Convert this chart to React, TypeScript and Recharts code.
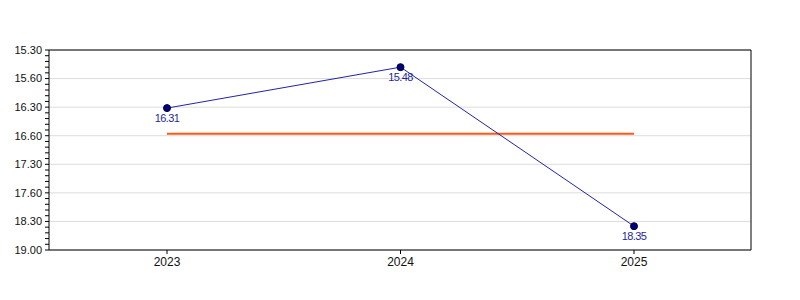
import React from 'react';
import { LineChart, Line, XAxis, YAxis, CartesianGrid, ReferenceLine, LabelList } from 'recharts';

const years = ['2023', '2024', '2025'];
const times = ['16.31', '15.48', '18.35'];
const target = '16.58';
const tickLabels = ['15.30', '15.60', '16.30', '16.60', '17.30', '17.60', '18.30', '19.00'];

// "mm.ss" -> seconds (the axis labels let the seconds run up to 60)
const toSecs = (s: string) => {
  const [m, sec] = s.split('.');
  return Number(m) * 60 + Number(sec);
};

const majorTicks = tickLabels.map(toSecs);
const lo = majorTicks[0];
const hi = majorTicks[majorTicks.length - 1];
const minorTicks: number[] = [];
for (let v = lo; v <= hi; v += 6) minorTicks.push(v);

const labelFor = (v: number) => {
  const i = majorTicks.indexOf(v);
  return i >= 0 ? tickLabels[i] : '';
};

const data = years.map((y, i) => ({
  year: y,
  secs: toSecs(times[i]),
  label: times[i],
  target: toSecs(target),
}));

const font = 'Liberation Sans, Arial, sans-serif';

const App: React.FC = () => {
  return (
    <div style={{ position: 'absolute', left: 0, top: 0, background: '#fff' }}>
      <LineChart width={800} height={300} data={data} margin={{ top: 50, right: 0, bottom: 0, left: 0 }}>
        <CartesianGrid yAxisId="left" vertical={false} horizontalValues={majorTicks} stroke="#dcdcdc" />
        <XAxis
          dataKey="year"
          height={50}
          padding={{ left: 118, right: 117 }}
          tickSize={4}
          tickMargin={3}
          stroke="#000"
          tick={{ fill: '#111', fontSize: 12, fontFamily: font }}
        />
        <YAxis
          yAxisId="left"
          width={49}
          reversed
          type="number"
          domain={[lo, hi]}
          ticks={minorTicks}
          interval={0}
          tickFormatter={labelFor}
          tickSize={4}
          tickMargin={3}
          stroke="#000"
          tick={{ fill: '#111', fontSize: 11, fontFamily: font }}
        />
        <YAxis
          yAxisId="right"
          orientation="right"
          width={49}
          reversed
          type="number"
          domain={[lo, hi]}
          ticks={minorTicks}
          interval={0}
          tickFormatter={labelFor}
          tickSize={4}
          tickMargin={6}
          stroke="#000"
          tick={{ fill: '#111', fontSize: 11, fontFamily: font, textAnchor: 'start' }}
        />
        <ReferenceLine yAxisId="left" y={lo} stroke="#000" />
        <Line
          yAxisId="left"
          dataKey="target"
          stroke="#ff5a14"
          strokeWidth={2}
          dot={false}
          isAnimationActive={false}
        />
        <Line
          yAxisId="left"
          dataKey="secs"
          stroke="#2323a8"
          strokeWidth={1}
          dot={{ r: 3.5, fill: '#000080', stroke: '#000033', strokeWidth: 1 }}
          isAnimationActive={false}
        >
          <LabelList
            dataKey="label"
            position="bottom"
            offset={6}
            fill="#1f1f99"
            fontSize={11}
            letterSpacing={-0.6}
            fontFamily={font}
          />
        </Line>
      </LineChart>
    </div>
  );
};

export default App;
